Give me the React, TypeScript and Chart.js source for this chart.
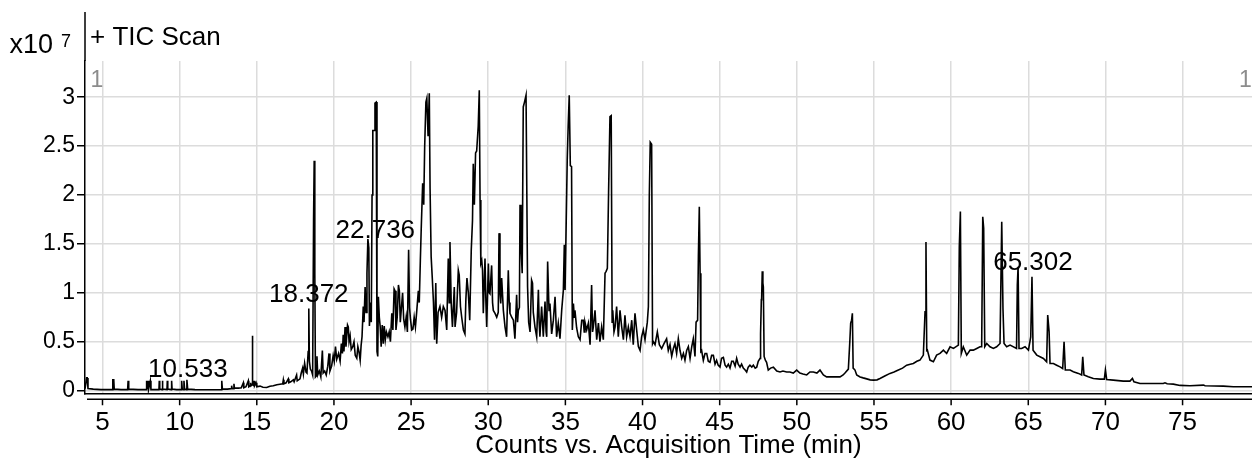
import { useEffect, useRef } from "react";
import { Chart, registerables } from "chart.js";

Chart.register(...registerables);

const FONT = '"Liberation Sans", Arial, sans-serif';

// ---- TIC trace (time in min, counts in units of 10^7) ----
const timeEarly = [
  3.87, 3.97, 4.01, 4.06, 4.4, 4.9, 5.3,
  5.64, 5.67, 5.73, 5.76, 6.2,
  6.63, 6.66, 6.70, 7.3,
  7.83, 7.86, 7.90, 7.95, 7.99, 8.10, 8.14, 8.4,
  8.66, 8.68, 8.71, 8.86, 8.88, 8.91,
  9.18, 9.20, 9.23, 9.46, 9.48, 9.51, 9.8,
  10.11, 10.13, 10.17, 10.26, 10.28, 10.32, 10.44, 10.47, 10.52,
  11.0, 11.6, 12.2, 12.70, 12.73, 12.77, 13.1,
  13.35, 13.37, 13.40, 13.50, 13.52, 13.55, 13.8, 14.0,
  14.13, 14.16, 14.3, 14.45, 14.48, 14.58, 14.60, 14.63,
  14.69, 14.71, 14.74, 14.80, 14.82, 14.86, 14.95, 15.0,
];
const countEarly = [
  0.02, 0.13, 0.13, 0.02, 0.015, 0.01, 0.012,
  0.01, 0.11, 0.11, 0.015, 0.01,
  0.01, 0.10, 0.015, 0.01,
  0.01, 0.10, 0.015, 0.10, 0.015, 0.10, 0.01, 0.01,
  0.01, 0.10, 0.015, 0.01, 0.10, 0.015,
  0.01, 0.10, 0.015, 0.01, 0.10, 0.015, 0.01,
  0.01, 0.10, 0.015, 0.01, 0.10, 0.015, 0.01, 0.11, 0.015,
  0.01, 0.008, 0.008, 0.01, 0.10, 0.015, 0.015,
  0.02, 0.05, 0.02, 0.02, 0.07, 0.025, 0.025, 0.03,
  0.08, 0.03, 0.04, 0.10, 0.04, 0.05, 0.08, 0.05,
  0.06, 0.56, 0.06, 0.05, 0.10, 0.05, 0.08, 0.04,
];

const timeRise = [
  15.21, 15.40, 15.64, 15.85, 16.07, 16.30, 16.50, 16.68, 16.72, 16.76,
  16.90, 17.04, 17.08, 17.20, 17.37, 17.42, 17.58, 17.62, 17.80, 17.88,
  17.97, 18.02, 18.10, 18.19, 18.25, 18.33, 18.37, 18.41, 18.47, 18.55,
  18.62, 18.68, 18.72, 18.76, 18.80,
];
const countRise = [
  0.046, 0.035, 0.032, 0.045, 0.05, 0.06, 0.065, 0.07, 0.11, 0.07,
  0.08, 0.12, 0.08, 0.09, 0.11, 0.09, 0.16, 0.10, 0.12, 0.18,
  0.23, 0.17, 0.28, 0.19, 0.18, 0.40, 0.84, 0.30, 0.22, 0.20,
  0.16, 1.75, 2.35, 1.20, 0.14,
];

const timeMid1 = [
  18.85, 18.90, 18.95, 19.05, 19.15, 19.25, 19.30, 19.40, 19.50, 19.60,
  19.68, 19.74, 19.85, 19.95, 20.02, 20.10, 20.18, 20.30, 20.40, 20.48,
  20.55, 20.60, 20.65, 20.72, 20.78, 20.88, 20.93, 20.98, 21.05, 21.12,
  21.22, 21.30, 21.38, 21.48, 21.55, 21.62, 21.70, 21.76, 21.82, 21.90,
  21.95, 22.02, 22.08, 22.14, 22.20, 22.26, 22.30, 22.36, 22.42, 22.47,
  22.52, 22.60, 22.66, 22.74, 22.79, 22.84, 22.88,
];
const countMid1 = [
  0.15, 0.35, 0.16, 0.20, 0.14, 0.41, 0.18, 0.20, 0.16, 0.25,
  0.38, 0.20, 0.25, 0.36, 0.30, 0.45, 0.32, 0.38, 0.30, 0.48,
  0.38, 0.57, 0.40, 0.65, 0.45, 0.67, 0.65, 0.50, 0.56, 0.42,
  0.45, 0.50, 0.36, 0.33, 0.45, 0.40, 0.31, 0.46, 0.55, 0.86,
  0.70, 1.06, 0.80, 1.20, 1.55, 1.46, 0.66, 0.90, 0.70, 2.00,
  2.66, 2.66, 2.94, 2.95, 0.40, 0.35, 0.96,
];

const timeMid2 = [
  22.94, 23.00, 23.06, 23.13, 23.20, 23.26, 23.33, 23.40, 23.50, 23.58,
  23.66, 23.75, 23.82, 23.90, 23.96, 24.02, 24.10, 24.18, 24.24, 24.30,
  24.38, 24.45, 24.52, 24.60, 24.68, 24.76, 24.84, 24.90, 24.96, 25.04,
  25.12, 25.20, 25.28, 25.36, 25.47, 25.53, 25.60, 25.66, 25.75, 25.82,
  25.88, 25.96, 26.02, 26.10, 26.18, 26.23, 26.30, 26.38, 26.45, 26.52,
];
const countMid2 = [
  0.75, 0.65, 0.45, 0.67, 0.48, 0.66, 0.52, 0.60, 0.55, 0.60,
  0.50, 0.79, 0.62, 1.04, 1.02, 0.62, 0.75, 1.08, 1.02, 0.70,
  0.86, 1.00, 0.73, 0.65, 0.75, 0.60, 1.44, 0.85, 0.73, 0.62,
  0.63, 0.75, 0.65, 0.80, 1.02, 0.90, 1.33, 1.67, 2.12, 1.90,
  2.49, 2.95, 2.99, 2.60, 3.04, 2.07, 1.37, 1.13, 0.90, 0.52,
];

const timeMid3 = [
  26.60, 26.66, 26.75, 26.87, 26.98, 27.09, 27.20, 27.31, 27.41, 27.47,
  27.52, 27.60, 27.68, 27.80, 27.85, 27.95, 28.06, 28.12, 28.20, 28.28,
  28.39, 28.49, 28.55, 28.62, 28.71, 28.80, 28.90, 28.98, 29.03, 29.10,
  29.18, 29.25, 29.35, 29.42, 29.47, 29.52, 29.58, 29.63, 29.68, 29.79,
  29.85, 29.90, 30.01, 30.06, 30.11, 30.22, 30.28, 30.33, 30.44, 30.55,
  30.65, 30.70, 30.76, 30.81, 30.87, 30.98, 31.09, 31.19, 31.30, 31.36,
  31.41, 31.52, 31.63, 31.73, 31.84, 31.90, 31.95, 32.02, 32.06, 32.12,
  32.20, 32.27, 32.35, 32.45, 32.55, 32.62, 32.71, 32.81, 32.87, 32.92,
  33.03, 33.14, 33.25, 33.30, 33.35, 33.46, 33.57, 33.68, 33.75, 33.79,
  33.85, 33.94, 34.00, 34.11, 34.22, 34.33, 34.43, 34.54, 34.65, 34.76,
  34.87, 34.93, 34.98, 35.04, 35.12, 35.18, 35.25, 35.32, 35.40, 35.45,
];
const countMid3 = [
  1.10, 0.48, 0.80, 0.86, 0.75, 0.86, 0.82, 0.62, 1.35, 0.90,
  1.52, 0.89, 0.65, 1.06, 0.65, 0.80, 1.23, 1.18, 0.86, 0.75,
  0.62, 0.58, 0.93, 1.15, 1.00, 0.72, 1.44, 1.74, 2.32, 1.90,
  2.43, 2.45, 2.70, 3.07, 1.95, 1.30, 1.33, 1.23, 0.79, 1.35,
  0.90, 0.65, 1.30, 1.00, 0.99, 1.28, 0.90, 0.82, 0.79, 0.75,
  0.80, 1.61, 1.00, 0.89, 1.15, 0.82, 0.65, 0.55, 1.23, 0.90,
  0.79, 0.75, 0.72, 0.53, 0.98, 0.70, 0.82, 0.85, 1.90, 1.50,
  1.20, 2.90, 2.95, 3.02, 1.06, 0.70, 0.60, 1.13, 1.10, 0.80,
  0.65, 0.55, 1.03, 0.70, 0.55, 0.86, 0.55, 0.91, 0.60, 0.55,
  1.32, 0.82, 0.89, 0.58, 0.72, 0.96, 0.55, 0.69, 0.53, 0.82,
  1.03, 1.49, 1.03, 1.60, 2.36, 2.70, 3.02, 2.30, 2.29, 0.62,
];

const timeMid4 = [
  35.52, 35.58, 35.62, 35.73, 35.84, 35.95, 36.06, 36.16, 36.22, 36.27,
  36.38, 36.49, 36.60, 36.70, 36.76, 36.81, 36.92, 37.03, 37.14, 37.24,
  37.35, 37.46, 37.57, 37.64, 37.72, 37.80, 37.89, 37.97, 38.03, 38.07,
  38.15, 38.22, 38.32, 38.43, 38.54, 38.65, 38.76, 38.86, 38.97, 39.08,
  39.19, 39.30, 39.40, 39.51, 39.62, 39.73, 39.84, 39.94, 40.05, 40.16,
  40.31, 40.38, 40.44, 40.50, 40.59, 40.65, 40.70, 40.81, 40.96, 41.09,
  41.24, 41.39, 41.56, 41.67, 41.78, 41.89, 42.00, 42.10, 42.21, 42.32,
  42.43, 42.54, 42.65, 42.75, 42.86, 42.97, 43.08, 43.19, 43.29, 43.40,
  43.47, 43.57, 43.62, 43.68, 43.73, 43.78, 43.83, 43.94, 44.05,
];
const countMid4 = [
  0.89, 0.75, 0.82, 0.64, 0.55, 0.52, 0.72, 0.72, 0.60, 0.70,
  0.62, 0.69, 0.47, 1.08, 0.60, 0.65, 0.82, 0.52, 0.69, 0.50,
  0.65, 0.52, 1.20, 1.22, 1.25, 2.03, 2.80, 2.81, 0.70, 0.82,
  0.60, 0.65, 0.86, 0.55, 0.82, 0.65, 0.52, 0.77, 0.55, 0.65,
  0.55, 0.72, 0.47, 0.79, 0.62, 0.45, 0.41, 0.55, 0.62, 0.52,
  0.70, 0.86, 2.00, 2.54, 2.52, 0.48, 0.50, 0.47, 0.60, 0.47,
  0.43, 0.48, 0.53, 0.41, 0.47, 0.35, 0.43, 0.48, 0.38, 0.53,
  0.41, 0.33, 0.38, 0.31, 0.41, 0.45, 0.33, 0.45, 0.53, 0.35,
  0.70, 0.72, 1.37, 1.88, 1.20, 0.40, 0.41, 0.31, 0.38,
];

const timeTail1 = [
  44.16, 44.26, 44.37, 44.48, 44.59, 44.70, 44.80, 44.90, 45.02, 45.12,
  45.24, 45.35, 45.45, 45.56, 45.67, 45.78, 45.88, 46.00, 46.10, 46.20,
  46.32, 46.42, 46.53, 46.65, 46.75, 46.85, 46.96, 47.08, 47.18, 47.30,
  47.40, 47.50, 47.62, 47.65, 47.70, 47.72, 47.76, 47.80, 47.83, 47.88,
  47.96, 48.04, 48.15, 48.30, 48.48, 48.70, 48.91, 49.10, 49.34, 49.55,
  49.77, 49.99, 50.20, 50.40, 50.64, 50.85, 51.07, 51.30, 51.50, 51.72,
  51.93, 52.15, 52.36, 52.60, 52.80, 53.00, 53.12, 53.34, 53.44, 53.49,
  53.55, 53.60, 53.65,
];
const countTail1 = [
  0.38, 0.30, 0.29, 0.36, 0.36, 0.27, 0.31, 0.26, 0.24, 0.33,
  0.34, 0.26, 0.24, 0.27, 0.23, 0.30, 0.30, 0.25, 0.33, 0.27,
  0.24, 0.27, 0.23, 0.21, 0.19, 0.24, 0.26, 0.24, 0.26, 0.23,
  0.24, 0.30, 0.33, 0.58, 0.93, 0.95, 1.22, 1.10, 1.06, 0.35,
  0.31, 0.29, 0.21, 0.23, 0.24, 0.20, 0.19, 0.20, 0.19, 0.19,
  0.18, 0.21, 0.18, 0.17, 0.16, 0.19, 0.19, 0.18, 0.21, 0.16,
  0.14, 0.14, 0.14, 0.14, 0.14, 0.16, 0.18, 0.22, 0.52, 0.69,
  0.72, 0.79, 0.23,
];

const timeTail2 = [
  53.77, 53.88, 54.10, 54.30, 54.53, 54.75, 54.96, 55.20, 55.39, 55.70,
  56.04, 56.30, 56.58, 56.85, 57.12, 57.35, 57.55, 57.78, 57.98, 58.20,
  58.31, 58.37, 58.42, 58.46, 58.63, 58.85, 59.06, 59.28, 59.50, 59.71,
  59.93, 60.15, 60.47, 60.53, 60.60, 60.66, 60.79, 61.01, 61.23, 61.44,
  61.66, 61.87, 61.98, 62.05, 62.11, 62.18, 62.31, 62.52, 62.74, 62.95,
  63.17, 63.28, 63.36, 63.43, 63.60, 63.82, 64.24, 64.29, 64.34, 64.40,
  64.57, 64.79, 65.01, 65.16, 65.24, 65.31, 65.55, 65.76, 65.98, 66.19,
  66.26, 66.35, 66.41, 66.63, 66.84, 67.06, 67.23, 67.32, 67.40, 67.71,
  67.92, 68.25, 68.46, 68.53, 68.61, 68.89, 69.22, 69.65, 69.93, 70.00,
  70.08, 70.51, 71.16, 71.59, 71.75, 71.85, 72.24, 73.11, 73.75, 73.86,
  74.00, 74.40, 74.84, 75.48, 76.35, 76.46, 77.64, 78.29, 79.50,
];
const countTail2 = [
  0.21, 0.16, 0.14, 0.13, 0.12, 0.11, 0.107, 0.11, 0.124, 0.15,
  0.176, 0.19, 0.21, 0.23, 0.26, 0.27, 0.277, 0.30, 0.312, 0.363,
  0.806, 1.52, 0.41, 0.414, 0.312, 0.295, 0.363, 0.38, 0.414, 0.38,
  0.448, 0.431, 0.465, 1.47, 1.83, 0.38, 0.448, 0.363, 0.414, 0.414,
  0.431, 0.448, 0.448, 1.778, 1.66, 0.448, 0.482, 0.448, 0.431, 0.448,
  0.482, 1.726, 0.84, 0.482, 0.448, 0.465, 0.431, 1.08, 1.266, 0.431,
  0.431, 0.448, 0.414, 0.55, 1.164, 0.414, 0.363, 0.346, 0.329, 0.295,
  0.772, 0.60, 0.277, 0.277, 0.26, 0.243, 0.226, 0.50, 0.21, 0.21,
  0.193, 0.176, 0.16, 0.346, 0.16, 0.141, 0.124, 0.117, 0.117, 0.21,
  0.114, 0.107, 0.097, 0.097, 0.124, 0.09, 0.073, 0.073, 0.073, 0.08,
  0.07, 0.066, 0.053, 0.049, 0.056, 0.049, 0.046, 0.039, 0.039,
];

const acquisitionTimes = [
  ...timeEarly, ...timeRise, ...timeMid1, ...timeMid2, ...timeMid3,
  ...timeMid4, ...timeTail1, ...timeTail2,
];
const ticCounts = [
  ...countEarly, ...countRise, ...countMid1, ...countMid2, ...countMid3,
  ...countMid4, ...countTail1, ...countTail2,
];

const xTickValues = [5, 10, 15, 20, 25, 30, 35, 40, 45, 50, 55, 60, 65, 70, 75];
const yTickValues = [0, 0.5, 1, 1.5, 2, 2.5, 3];

const peakLabelTexts = ["10.533", "18.372", "22.736", "65.302"];
const peakLabelTimes = [10.533, 18.372, 22.68, 65.302];
const peakLabelLevels = [0.14, 0.905, 1.56, 1.23];

const X_MIN = 3.866;
const X_MAX = 79.5;
const Y_MIN = -0.0276;
const Y_MAX = 3.37;

const decorPlugin = {
  id: "decor",
  afterDraw(chart: any) {
    const { ctx, chartArea, scales } = chart;
    const xs = scales.x;
    const ys = scales.y;
    ctx.save();
    ctx.strokeStyle = "#000";
    ctx.lineWidth = 1.5;
    ctx.beginPath();
    ctx.moveTo(chartArea.left, 12);
    ctx.lineTo(chartArea.left, chartArea.top);
    const yb = chartArea.bottom + 6;
    ctx.moveTo(chartArea.left + 2, yb);
    ctx.lineTo(chartArea.right, yb);
    xTickValues.forEach((v) => {
      const px = xs.getPixelForValue(v);
      ctx.moveTo(px, yb);
      ctx.lineTo(px, yb + 6);
    });
    ctx.stroke();

    ctx.fillStyle = "#000";
    ctx.textBaseline = "alphabetic";
    ctx.textAlign = "left";
    ctx.font = `27px ${FONT}`;
    ctx.fillText("x10", 9.5, 53);
    ctx.font = `18px ${FONT}`;
    ctx.fillText("7", 61, 47);
    ctx.font = `26px ${FONT}`;
    ctx.fillText("+ TIC Scan", 90, 45);

    ctx.fillStyle = "#8c8c8c";
    ctx.font = `23px ${FONT}`;
    ctx.fillText("1", 90.5, 87);
    ctx.fillText("1", 1239, 87);

    ctx.fillStyle = "#000";
    ctx.textAlign = "center";
    ctx.font = `26px ${FONT}`;
    peakLabelTexts.forEach((t, i) => {
      ctx.fillText(t, xs.getPixelForValue(peakLabelTimes[i]), ys.getPixelForValue(peakLabelLevels[i]));
    });
    ctx.restore();
  },
};

export default function App() {
  const canvasRef = useRef<HTMLCanvasElement | null>(null);

  useEffect(() => {
    if (!canvasRef.current) return;
    const chart = new Chart(canvasRef.current, {
      type: "line",
      data: {
        datasets: [
          {
            label: "TIC Scan",
            data: acquisitionTimes.map((t, i) => ({ x: t, y: ticCounts[i] })),
            borderColor: "#000",
            borderWidth: 1.6,
            pointRadius: 0,
            fill: false,
            tension: 0,
          },
        ],
      },
      options: {
        animation: false,
        responsive: false,
        devicePixelRatio: 1,
        layout: { padding: { top: 61, left: 0, right: 0, bottom: 0 } },
        plugins: {
          legend: { display: false },
          tooltip: { enabled: false },
          title: { display: false },
        },
        scales: {
          x: {
            type: "linear",
            min: X_MIN,
            max: X_MAX,
            afterBuildTicks: (s: any) => {
              s.ticks = xTickValues.map((v) => ({ value: v }));
            },
            afterFit: (s: any) => {
              s.height = 67.7;
            },
            grid: { color: "#dcdcdc", lineWidth: 1.5, drawTicks: false },
            border: { display: true, color: "#000", width: 1.5 },
            ticks: {
              padding: 14,
              color: "#000",
              font: { size: 26, family: FONT },
              maxRotation: 0,
              autoSkip: false,
              callback: (v: any) => String(v),
            },
            title: {
              display: true,
              text: "Counts vs. Acquisition Time (min)",
              color: "#000",
              font: { size: 26, family: FONT },
              padding: { top: 0, bottom: 0 },
            },
          },
          y: {
            type: "linear",
            min: Y_MIN,
            max: Y_MAX,
            afterBuildTicks: (s: any) => {
              s.ticks = yTickValues.map((v) => ({ value: v }));
            },
            afterFit: (s: any) => {
              s.width = 85;
            },
            grid: {
              color: "#dcdcdc",
              lineWidth: 1.5,
              drawTicks: true,
              tickLength: 8,
              tickColor: "#000",
              tickWidth: 1.5,
            },
            border: { display: true, color: "#000", width: 1.5 },
            ticks: {
              padding: 2,
              color: "#000",
              font: { size: 23, family: FONT },
              callback: (v: any) => String(v),
            },
          },
        },
      },
      plugins: [decorPlugin],
    });
    return () => chart.destroy();
  }, []);

  return (
    <div style={{ position: "absolute", left: 0, top: 0, width: 1252, height: 461, background: "#fff" }}>
      <canvas ref={canvasRef} width={1252} height={461} style={{ display: "block" }} />
    </div>
  );
}
